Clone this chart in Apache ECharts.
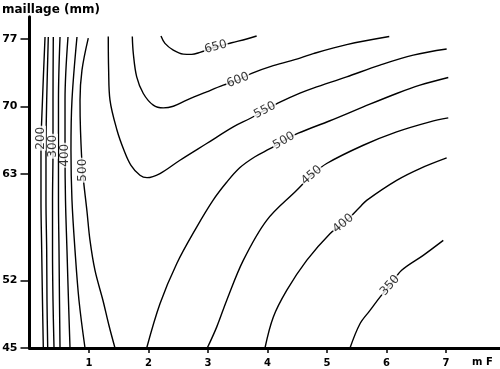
<!DOCTYPE html>
<html>
<head>
<meta charset="utf-8">
<script src="https://cdn.jsdelivr.net/npm/echarts@6/dist/echarts.min.js"></script>
<style>
html,body{margin:0;padding:0;background:#fff;}
#chart{width:500px;height:369px;}
</style>
</head>
<body>
<div id="chart"></div>
<script>
// ---- data (x = mF, y = maillage mm) ----
const yTicks = [45, 52, 63, 70, 77];
const xTicks = [1, 2, 3, 4, 5, 6, 7];

// right-hand family of contours
const c650 = [[2.21,77.3],[2.277,76.54],[2.417,75.84],[2.585,75.43],[2.726,75.40],[2.866,75.61],[3.13,76.16],[3.398,76.60],[3.65,76.99],[3.818,77.3]];
const c600 = [[1.728,77.25],[1.745,75.49],[1.802,73.07],[1.913,71.35],[2.081,70.14],[2.249,69.86],[2.417,70.03],[2.642,70.66],[2.978,71.52],[3.257,72.21],[3.504,72.73],[3.734,73.43],[4.097,74.23],[4.546,75.01],[4.77,75.48],[5.331,76.41],[6.047,77.25]];
const c550 = [[1.324,77.25],[1.33,73.8],[1.353,70.66],[1.471,67.55],[1.588,65.48],[1.706,63.92],[1.857,62.89],[1.975,62.64],[2.193,63.06],[2.529,64.44],[2.978,66.17],[3.425,67.89],[3.706,68.76],[3.958,69.62],[4.21,70.45],[4.546,71.38],[4.77,71.9],[5.331,73.07],[5.891,74.29],[6.45,75.32],[7.012,75.95]];
const c500 = [[1.97,45],[2.193,49.58],[2.474,53.73],[2.81,57.52],[3.084,60.29],[3.314,62.16],[3.538,63.68],[3.79,64.80],[4.042,65.63],[4.277,66.46],[4.518,67.24],[5.05,68.53],[5.61,69.96],[6.171,71.35],[6.563,72.21],[7.039,73.01]];
const c450 = [[2.988,45],[3.146,47.16],[3.314,49.92],[3.593,54.07],[3.987,58.22],[4.491,61.33],[4.743,62.89],[4.995,64.10],[5.61,65.99],[6.171,67.37],[6.731,68.41],[7.039,68.82]];
const c400 = [[3.958,45],[4.097,48.19],[4.323,50.96],[4.659,54.07],[5.05,56.84],[5.274,57.88],[5.555,59.60],[5.667,60.29],[6.171,62.36],[6.563,63.58],[7.012,64.68]];
const c350 = [[5.387,45],[5.555,47.51],[5.723,48.89],[5.891,50.27],[6.059,51.48],[6.255,53.04],[6.618,54.59],[6.955,56.14]];

// left-hand family (near-vertical lines), sampled at these y values
const leftY   = [77.2, 70.66, 65.48, 60.29, 55.11, 49.92, 45];
const left200 = [0.261, 0.218, 0.193, 0.193, 0.205, 0.218, 0.232];
const left250 = [0.316, 0.289, 0.277, 0.277, 0.289, 0.294, 0.306];
const left300 = [0.400, 0.395, 0.395, 0.387, 0.387, 0.395, 0.412];
const left350 = [0.513, 0.487, 0.487, 0.487, 0.496, 0.504, 0.513];
const left400 = [0.647, 0.597, 0.597, 0.605, 0.630, 0.655, 0.681];
const left450 = [0.798, 0.714, 0.697, 0.714, 0.765, 0.832, 0.933];
const left500 = [[0.988,77.09],[0.882,73.77],[0.849,70.66],[0.857,67.55],[0.891,63.41],[0.966,59.16],[1.017,56.14],[1.101,53.03],[1.235,49.92],[1.336,47.33],[1.437,45]];

// contour labels
const labelText = ['650','600','550','500','450','400','350','200','300','400','500'];
const labelX    = [3.13, 3.504, 3.958, 4.277, 4.743, 5.274, 6.059, 0.193, 0.395, 0.597, 0.891];
const labelY    = [76.16, 72.73, 69.62, 66.46, 62.89, 57.88, 51.48, 66.72, 65.89, 64.96, 63.41];
const labelRot  = [15, 22, 28, 30, 40, 40, 48, 90, 90, 90, 90];

// ---- build ----
const zipLeft = xs => xs.map((x, i) => [x, leftY[i]]);
const lines = [c650, c600, c550, c500, c450, c400, c350,
  zipLeft(left200), zipLeft(left250), zipLeft(left300), zipLeft(left350),
  zipLeft(left400), zipLeft(left450), left500];

const series = lines.map(d => ({
  type: 'line', data: d, smooth: 0.35, symbol: 'none', silent: true,
  lineStyle: { color: '#000', width: 1.4 }, z: 2
}));

series.push({
  type: 'scatter', z: 10, symbolSize: 0, silent: true,
  data: labelText.map((t, i) => ({
    value: [labelX[i], labelY[i]], name: t,
    label: { rotate: labelRot[i] }
  })),
  label: {
    show: true, position: 'inside', formatter: p => p.name,
    color: '#000', fontFamily: 'DejaVu Sans', fontSize: 12,
    backgroundColor: '#fff', padding: [0, 1], lineHeight: 10
  }
});

const font = 'DejaVu Sans';
const chart = echarts.init(document.getElementById('chart'), null, { renderer: 'canvas' });
chart.setOption({
  animation: false,
  backgroundColor: '#fff',
  grid: { left: 29.5, right: 0.5, top: 16.7, bottom: 21, containLabel: false, outerBoundsMode: 'none' },
  xAxis: {
    type: 'value', min: 0, max: 7.9, interval: 1,
    axisLine: { show: true, onZero: false, lineStyle: { color: '#000', width: 3 } },
    axisTick: { show: true, length: 5, customValues: xTicks, lineStyle: { color: '#000', width: 1.5 } },
    axisLabel: { customValues: xTicks, color: '#000', fontFamily: font, fontWeight: 'bold', fontSize: 10, margin: 10 },
    splitLine: { show: false }
  },
  yAxis: {
    type: 'value', min: 45, max: 79.3,
    axisLine: { show: true, onZero: false, lineStyle: { color: '#000', width: 3 } },
    axisTick: { show: true, length: 9, customValues: yTicks, lineStyle: { color: '#000', width: 1.5 } },
    axisLabel: { customValues: yTicks, color: '#000', fontFamily: font, fontWeight: 'bold', fontSize: 11, margin: 12 },
    splitLine: { show: false }
  },
  graphic: [
    { type: 'text', left: 2, top: 4, style: { text: 'maillage (mm)', fill: '#000', font: 'bold 12px "DejaVu Sans"' } },
    { type: 'text', left: 472, top: 357, style: { text: 'm F', fill: '#000', font: 'bold 10px "DejaVu Sans"' } }
  ],
  series: series
});
</script>
</body>
</html>
